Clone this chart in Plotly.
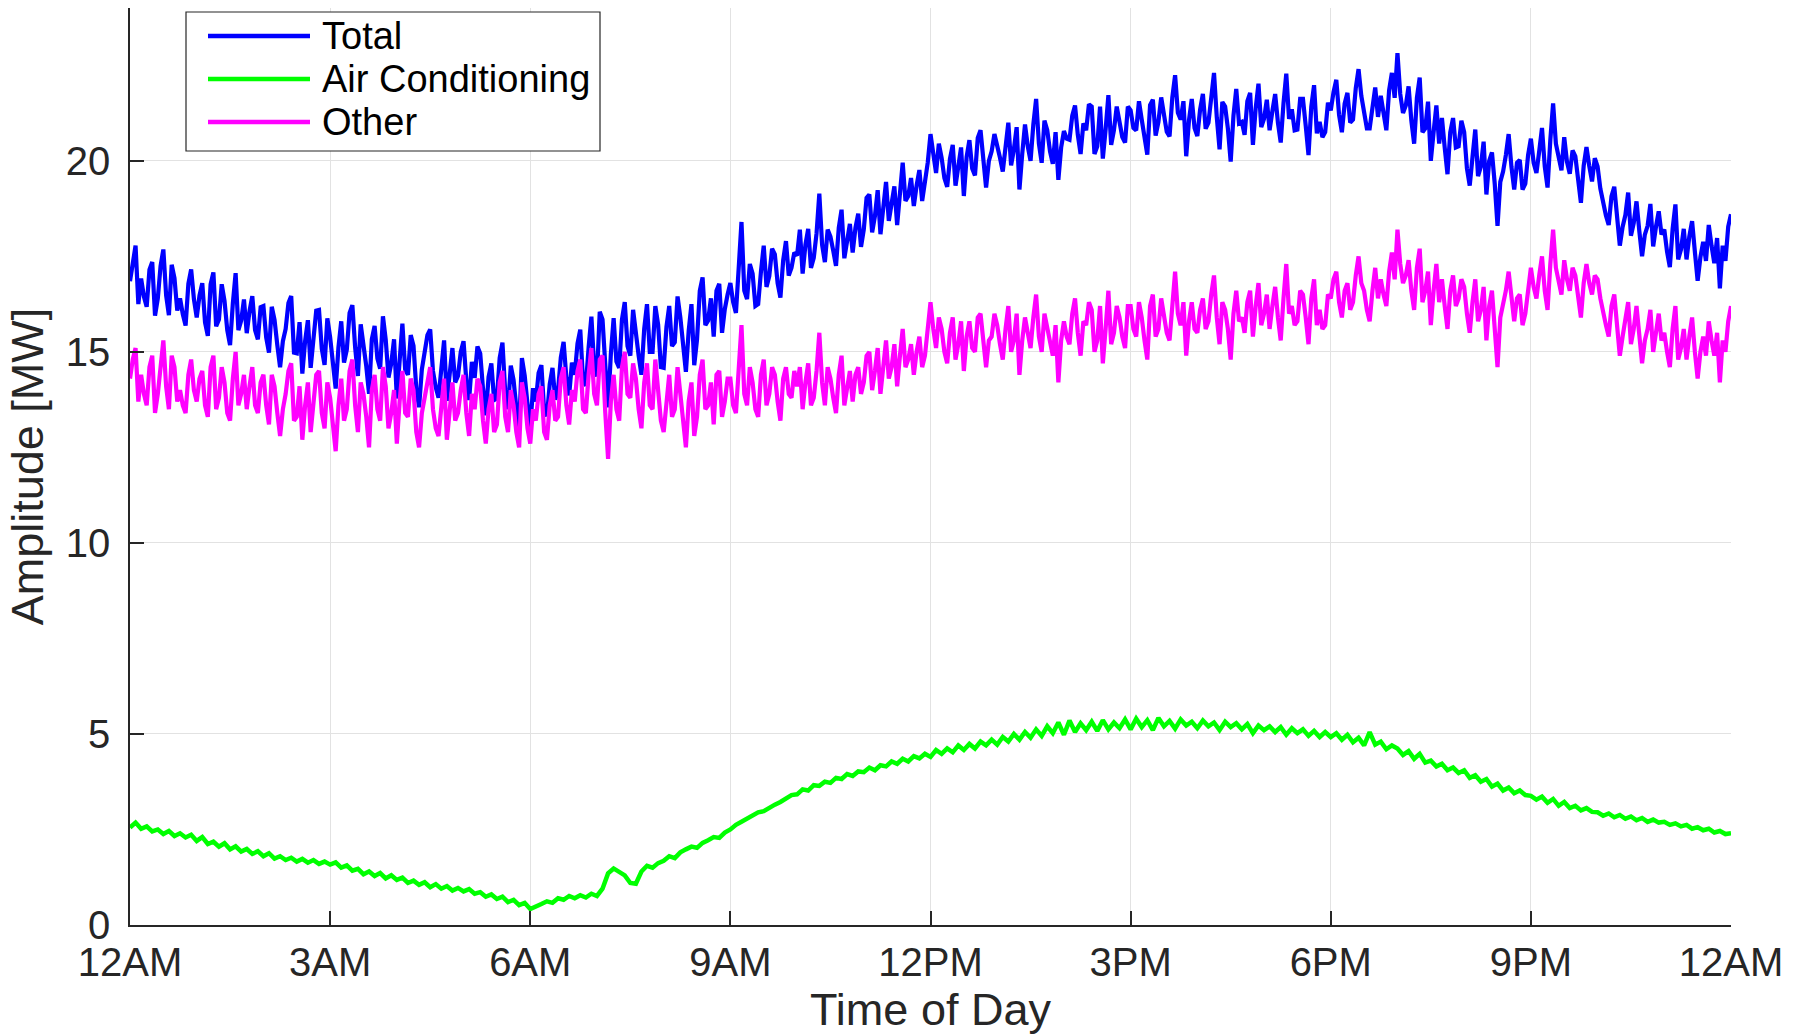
import plotly.graph_objects as go

# ---------------- data ----------------
# 5-minute samples, 00:00 .. 24:00
minutes = list(range(0, 1441, 5))
# in-between samples at 00:02.5, 00:07.5, ... 23:57.5 (Total / Other only)
minutes_mid = [m + 2.5 for m in minutes[:-1]]

other = [
    14.3, 15.1, 14.4, 13.6, 14.9, 13.9, 15.3, 13.5, 14.6, 14.0, 13.4, 14.8,
    13.7, 14.5, 13.3, 14.9, 13.8, 14.2, 13.2, 15.0, 13.9, 13.5, 14.6, 13.4,
    14.4, 13.1, 14.1, 12.8, 13.9, 14.7, 13.3, 12.7, 14.2, 13.6, 14.5, 13.0,
    13.8, 12.4, 14.3, 13.5, 14.8, 12.9, 13.9, 12.5, 14.4, 13.2, 14.1, 13.4,
    12.6, 14.5, 13.3, 14.0, 12.5, 13.8, 14.6, 13.0, 13.6, 12.7, 14.2, 13.4,
    14.4, 12.8, 13.5, 14.1, 12.6, 13.9, 13.1, 14.5, 12.9, 13.6, 12.5, 13.8,
    12.6, 13.2, 14.1, 12.7, 14.0, 13.3, 14.6, 13.1, 13.7, 14.8, 13.4, 15.1,
    13.6, 14.9, 12.2, 14.4, 13.2, 15.0, 13.8, 14.3, 13.0, 14.7, 13.5, 14.1,
    12.9, 14.4, 13.5, 14.0, 12.5, 14.2, 13.3, 14.8, 13.6, 13.1, 14.5, 13.7,
    14.3, 13.4, 15.7, 13.6, 14.2, 13.3, 14.8, 13.9, 14.4, 13.2, 14.6, 13.8,
    14.1, 13.5, 14.7, 13.8, 15.5, 13.6, 14.3, 13.4, 14.9, 14.0, 13.7, 14.6,
    14.2, 15.0, 14.5, 13.9, 15.3, 14.6, 14.1, 15.6, 14.8, 14.4, 15.4, 14.9,
    16.3, 15.1, 15.6, 14.7, 15.9, 15.2, 14.5, 15.8, 15.0, 16.0, 14.6, 15.4,
    15.7, 14.8, 16.2, 15.3, 14.4, 15.9, 15.1, 16.5, 15.0, 15.6, 14.9, 14.2,
    15.8, 15.2, 16.4, 14.9, 15.7, 16.1, 15.3, 14.7, 16.6, 15.5, 15.9, 15.1,
    16.2, 15.4, 15.9, 14.8, 16.5, 15.6, 16.0, 15.3, 17.1, 15.7, 14.9, 16.3,
    15.5, 16.4, 15.8, 17.0, 15.2, 16.1, 14.8, 16.6, 15.9, 16.3, 15.4, 16.8,
    16.0, 15.6, 16.7, 15.3, 17.3, 16.2, 15.8, 16.5, 15.2, 16.9, 16.1, 15.7,
    16.4, 17.1, 15.9, 16.8, 16.3, 17.5, 16.6, 15.8, 17.2, 16.9, 16.2, 17.6,
    18.2, 16.8, 17.4, 16.1, 17.7, 16.6, 15.7, 17.3, 16.9, 15.6, 17.0, 16.4,
    16.7, 15.5, 16.9, 16.1, 15.3, 16.6, 14.6, 16.2, 17.1, 15.8, 16.5, 16.0,
    17.2, 16.4, 17.5, 16.1, 18.2, 16.9, 17.4, 16.6, 17.0, 15.9, 17.3, 16.5,
    16.9, 16.0, 15.4, 16.5, 14.9, 15.8, 15.2, 16.2, 14.7, 15.6, 15.0, 16.0,
    15.5, 14.6, 16.2, 15.1, 14.8, 15.9, 14.3, 15.4, 15.8, 14.9, 14.2, 15.0,
    16.2,
]

other_mid = [
    14.8, 13.7, 13.9, 14.6, 13.4, 14.7, 14.1, 14.9, 13.7, 13.6, 14.4, 14.0,
    14.3, 13.6, 14.6, 13.5, 14.6, 13.4, 14.3, 13.6, 14.4, 14.1, 13.6, 14.2,
    13.6, 14.4, 13.4, 13.5, 14.5, 13.2, 14.1, 13.6, 12.9, 14.4, 13.4, 14.2,
    13.1, 13.6, 13.2, 14.5, 13.6, 14.2, 13.3, 14.0, 13.5, 14.6, 13.0, 14.0,
    13.7, 13.4, 14.3, 12.9, 13.4, 14.3, 13.5, 12.8, 14.3, 13.5, 13.2, 14.0,
    13.4, 13.9, 14.3, 13.2, 13.5, 12.9, 14.2, 13.3, 14.0, 12.9, 14.2, 13.0,
    13.5, 13.9, 12.9, 13.6, 13.2, 14.3, 13.6, 14.0, 14.5, 13.5, 14.4, 13.9,
    14.8, 13.4, 13.7, 13.5, 14.6, 13.9, 14.7, 13.5, 14.2, 13.6, 14.8, 13.2,
    13.8, 13.3, 14.6, 13.2, 13.7, 12.8, 14.4, 13.5, 14.2, 14.4, 13.3, 14.3,
    13.6, 14.5, 13.9, 14.6, 13.5, 14.4, 13.6, 14.6, 13.7, 14.3, 13.9, 14.5,
    14.6, 14.2, 13.6, 14.5, 14.2, 14.6, 13.8, 14.4, 13.6, 14.5, 14.4, 13.9,
    14.9, 14.0, 15.1, 14.7, 14.3, 15.2, 14.9, 14.6, 15.2, 15.0, 14.6, 15.6,
    15.6, 15.9, 15.0, 15.5, 14.8, 15.8, 15.4, 15.1, 15.9, 15.3, 15.3, 16.0,
    15.2, 15.6, 15.0, 16.0, 15.3, 15.5, 15.9, 15.4, 16.0, 15.2, 15.7, 15.3,
    15.4, 16.0, 15.5, 15.8, 16.3, 15.0, 16.2, 15.6, 15.2, 16.2, 15.4, 16.2,
    15.6, 16.3, 15.3, 16.2, 15.4, 16.4, 15.5, 16.4, 16.0, 16.3, 15.8, 15.6,
    16.1, 15.6, 16.5, 15.9, 16.3, 15.6, 16.0, 15.8, 15.5, 16.6, 16.2, 15.7,
    16.5, 16.2, 15.9, 16.4, 16.0, 15.7, 16.6, 15.9, 16.4, 15.7, 15.6, 16.5,
    16.9, 16.3, 16.6, 16.1, 17.0, 16.8, 16.1, 16.6, 16.4, 16.5, 17.1, 16.9,
    17.3, 17.0, 16.6, 17.2, 16.3, 17.1, 16.6, 16.3, 16.2, 16.6, 16.2, 16.9,
    16.0, 16.3, 15.8, 16.7, 16.2, 15.6, 15.9, 16.6, 16.3, 16.4, 15.7, 16.6,
    16.7, 17.0, 16.6, 17.3, 17.2, 16.5, 16.9, 17.2, 16.4, 16.8, 16.8, 17.0,
    16.4, 15.7, 16.2, 15.6, 15.4, 16.3, 15.6, 15.4, 15.3, 16.1, 15.5, 15.3,
    15.0, 15.6, 14.8, 15.6, 15.4, 15.0, 15.0, 14.9, 15.3, 15.5, 15.3, 15.8,
]

air_conditioning = [
    2.55, 2.68, 2.52, 2.58, 2.45, 2.50, 2.38, 2.46, 2.33, 2.40, 2.29, 2.36,
    2.20, 2.30, 2.12, 2.18, 2.05, 2.14, 1.98, 2.06, 1.92, 1.99, 1.86, 1.93,
    1.80, 1.88, 1.74, 1.80, 1.70, 1.76, 1.66, 1.73, 1.63, 1.70, 1.60, 1.66,
    1.58, 1.64, 1.50, 1.56, 1.42, 1.47, 1.33, 1.40, 1.28, 1.36, 1.22, 1.30,
    1.18, 1.24, 1.10, 1.16, 1.05, 1.12, 0.99, 1.07, 0.95, 1.02, 0.90, 0.97,
    0.88, 0.94, 0.82, 0.86, 0.74, 0.80, 0.68, 0.74, 0.60, 0.66, 0.52, 0.58,
    0.42, 0.50, 0.55, 0.62, 0.58, 0.70, 0.66, 0.76, 0.70, 0.78, 0.72, 0.82,
    0.76, 0.95, 1.35, 1.48, 1.38, 1.30, 1.10, 1.08, 1.40, 1.55, 1.50, 1.62,
    1.68, 1.80, 1.75, 1.90, 1.98, 2.05, 2.02, 2.15, 2.22, 2.30, 2.28, 2.42,
    2.50, 2.62, 2.70, 2.78, 2.85, 2.95, 2.98, 3.08, 3.15, 3.22, 3.30, 3.40,
    3.42, 3.55, 3.52, 3.66, 3.64, 3.75, 3.72, 3.85, 3.82, 3.95, 3.90, 4.02,
    4.00, 4.12, 4.05, 4.18, 4.15, 4.28, 4.22, 4.35, 4.28, 4.42, 4.36, 4.48,
    4.40, 4.58, 4.48, 4.62, 4.52, 4.70, 4.58, 4.74, 4.62, 4.80, 4.70, 4.85,
    4.72, 4.92, 4.80, 5.00, 4.85, 5.05, 4.90, 5.12, 4.95, 5.20, 5.02, 5.30,
    4.98, 5.35, 5.05, 5.28, 5.10, 5.32, 5.08, 5.36, 5.12, 5.30, 5.15, 5.38,
    5.12, 5.40, 5.18, 5.36, 5.10, 5.42, 5.20, 5.34, 5.14, 5.38, 5.22, 5.32,
    5.15, 5.35, 5.20, 5.30, 5.10, 5.32, 5.18, 5.28, 5.12, 5.26, 5.02, 5.22,
    5.10, 5.20, 5.05, 5.18, 4.98, 5.15, 5.02, 5.12, 4.95, 5.08, 4.92, 5.05,
    4.92, 5.02, 4.85, 4.98, 4.78, 4.90, 4.70, 5.05, 4.72, 4.80, 4.60, 4.70,
    4.62, 4.45, 4.55, 4.35, 4.48, 4.25, 4.30, 4.15, 4.22, 4.05, 4.12, 3.98,
    4.05, 3.85, 3.92, 3.75, 3.82, 3.62, 3.70, 3.52, 3.60, 3.45, 3.52, 3.40,
    3.38, 3.28, 3.36, 3.20, 3.30, 3.12, 3.22, 3.06, 3.12, 3.00, 3.06, 2.96,
    2.95, 2.86, 2.92, 2.82, 2.88, 2.78, 2.84, 2.74, 2.80, 2.70, 2.76, 2.68,
    2.70, 2.62, 2.66, 2.58, 2.62, 2.52, 2.56, 2.48, 2.52, 2.42, 2.46, 2.38,
    2.40,
]

total = [
    16.85, 17.78, 16.92, 16.18, 17.35, 16.40, 17.68, 15.96, 16.93, 16.40, 15.69, 17.16,
    15.90, 16.80, 15.42, 17.08, 15.85, 16.34, 15.18, 17.06, 15.82, 15.49, 16.46, 15.33,
    16.20, 14.98, 15.84, 14.60, 15.60, 16.46, 14.96, 14.43, 15.83, 15.30, 16.10, 14.66,
    15.38, 14.04, 15.80, 15.06, 16.22, 14.37, 15.23, 13.90, 15.68, 14.56, 15.32, 14.70,
    13.78, 15.74, 14.40, 15.16, 13.55, 14.92, 15.59, 14.07, 14.55, 13.72, 15.10, 14.37,
    15.28, 13.74, 14.32, 14.96, 13.34, 14.70, 13.78, 15.24, 13.50, 14.26, 13.02, 14.38,
    13.02, 13.70, 14.65, 13.32, 14.58, 14.00, 15.26, 13.86, 14.40, 15.58, 14.12, 15.92,
    14.36, 15.85, 13.55, 15.88, 14.58, 16.30, 14.90, 15.38, 14.40, 16.25, 15.00, 15.72,
    14.58, 16.20, 15.25, 15.90, 14.48, 16.25, 15.32, 16.95, 15.82, 15.40, 16.78, 16.12,
    16.80, 16.02, 18.40, 16.38, 17.05, 16.25, 17.78, 16.98, 17.55, 16.42, 17.90, 17.20,
    17.52, 17.05, 18.22, 17.46, 19.14, 17.35, 18.02, 17.25, 18.72, 17.95, 17.60, 18.62,
    18.20, 19.12, 18.55, 18.08, 19.45, 18.88, 18.32, 19.95, 19.08, 18.82, 19.76, 19.38,
    20.70, 19.68, 20.08, 19.32, 20.42, 19.90, 19.08, 20.54, 19.62, 20.80, 19.30, 20.25,
    20.42, 19.72, 21.00, 20.30, 19.25, 20.95, 20.00, 21.62, 19.95, 20.80, 19.92, 19.50,
    20.78, 20.55, 21.45, 20.18, 20.80, 21.42, 20.38, 20.06, 21.72, 20.80, 21.05, 20.48,
    21.32, 20.80, 21.08, 20.16, 21.60, 21.02, 21.20, 20.64, 22.24, 21.08, 20.12, 21.62,
    20.65, 21.75, 21.00, 22.30, 20.30, 21.42, 19.98, 21.88, 21.02, 21.56, 20.42, 22.02,
    21.10, 20.80, 21.75, 20.48, 22.28, 21.35, 20.82, 21.62, 20.15, 21.98, 21.02, 20.75,
    21.32, 22.12, 20.75, 21.78, 21.08, 22.40, 21.30, 20.85, 21.92, 21.70, 20.80, 22.30,
    22.82, 21.25, 21.95, 20.45, 22.18, 20.85, 20.00, 21.45, 21.12, 19.65, 21.12, 20.38,
    20.75, 19.35, 20.82, 19.85, 19.12, 20.22, 18.30, 19.72, 20.70, 19.25, 20.02, 19.40,
    20.58, 19.68, 20.86, 19.30, 21.50, 20.02, 20.62, 19.66, 20.12, 18.90, 20.36, 19.46,
    19.85, 18.86, 18.32, 19.32, 17.78, 18.58, 18.04, 18.94, 17.50, 18.30, 17.76, 18.68,
    18.20, 17.22, 18.86, 17.68, 17.42, 18.42, 16.86, 17.88, 18.32, 17.32, 16.66, 17.38,
    18.60,
]

total_mid = [
    17.35, 16.25, 16.45, 17.15, 15.95, 17.25, 16.48, 17.28, 16.08, 15.98, 16.78, 16.38,
    16.47, 15.77, 16.77, 15.67, 16.77, 15.57, 16.27, 15.57, 16.37, 16.07, 15.57, 16.17,
    15.38, 16.18, 15.18, 15.28, 16.28, 14.98, 15.78, 15.28, 14.58, 16.08, 15.08, 15.88,
    14.62, 15.12, 14.72, 16.02, 15.12, 15.72, 14.63, 15.33, 14.83, 15.93, 14.33, 15.33,
    14.84, 14.54, 15.44, 14.04, 14.54, 15.44, 14.50, 13.80, 15.30, 14.50, 14.20, 15.00,
    14.24, 14.74, 15.14, 14.04, 14.34, 13.74, 14.84, 13.94, 14.64, 13.54, 14.84, 13.64,
    14.05, 14.45, 13.45, 14.15, 13.75, 14.85, 14.32, 14.72, 15.22, 14.22, 15.12, 14.62,
    16.05, 14.65, 14.95, 14.75, 15.85, 15.15, 16.10, 14.90, 15.60, 15.00, 16.20, 14.60,
    15.65, 15.15, 16.45, 15.05, 15.55, 14.65, 16.60, 15.70, 16.40, 16.60, 15.50, 16.50,
    16.30, 17.20, 16.60, 17.30, 16.20, 17.10, 16.70, 17.70, 16.80, 17.40, 17.00, 17.60,
    18.20, 17.80, 17.20, 18.10, 17.80, 18.20, 17.65, 18.25, 17.45, 18.35, 18.25, 17.75,
    19.03, 18.13, 19.23, 18.83, 18.43, 19.33, 19.25, 18.95, 19.55, 19.35, 18.95, 19.95,
    20.15, 20.45, 19.55, 20.05, 19.35, 20.35, 20.10, 19.80, 20.60, 20.00, 20.00, 20.70,
    20.08, 20.48, 19.88, 20.88, 20.18, 20.38, 20.95, 20.45, 21.05, 20.25, 20.75, 20.35,
    20.58, 21.18, 20.68, 20.98, 21.48, 20.18, 21.42, 20.82, 20.42, 21.42, 20.62, 21.42,
    20.86, 21.56, 20.56, 21.46, 20.66, 21.66, 20.76, 21.66, 21.26, 21.56, 21.06, 20.86,
    21.34, 20.84, 21.74, 21.14, 21.54, 20.84, 21.18, 20.98, 20.68, 21.78, 21.38, 20.88,
    21.60, 21.30, 21.00, 21.50, 21.10, 20.80, 21.62, 20.92, 21.42, 20.72, 20.62, 21.52,
    21.80, 21.20, 21.50, 21.00, 21.90, 21.70, 20.85, 21.35, 21.15, 21.25, 21.85, 21.65,
    21.75, 21.45, 21.05, 21.65, 20.75, 21.55, 20.75, 20.45, 20.35, 20.75, 20.35, 21.05,
    19.80, 20.10, 19.60, 20.50, 20.00, 19.40, 19.45, 20.15, 19.85, 19.95, 19.25, 20.15,
    19.95, 20.25, 19.85, 20.55, 20.45, 19.75, 19.97, 20.27, 19.47, 19.87, 19.87, 20.07,
    19.27, 18.57, 19.07, 18.47, 18.27, 19.17, 18.37, 18.17, 18.07, 18.87, 18.27, 18.07,
    17.62, 18.22, 17.42, 18.22, 18.02, 17.62, 17.48, 17.38, 17.78, 17.98, 17.78, 18.28,
]

series_names = ["Total", "Air Conditioning", "Other"]
series_colors = ["#0000FF", "#00FF00", "#FF00FF"]

x_tickvals = [0, 3, 6, 9, 12, 15, 18, 21, 24]
x_ticktext = ["12AM", "3AM", "6AM", "9AM", "12PM", "3PM", "6PM", "9PM", "12AM"]
y_tickvals = [0, 5, 10, 15, 20]


# merge the 5-minute and in-between samples into one time-ordered series
def merge(main_vals, mid_vals):
    xs, ys = [], []
    for i in range(len(mid_vals)):
        xs += [minutes[i] / 60, minutes_mid[i] / 60]
        ys += [main_vals[i], mid_vals[i]]
    xs.append(minutes[-1] / 60)
    ys.append(main_vals[-1])
    return xs, ys


x_total, y_total = merge(total, total_mid)
x_other, y_other = merge(other, other_mid)
x_ac = [m / 60 for m in minutes]

# ---------------- figure ----------------
W, H = 1802, 1036
L, R, T, B = 130, 71, 8, 111
PW, PH = W - L - R, H - T - B

FONT = "Liberation Sans, Arial, Helvetica, sans-serif"
AXC = "#262626"

fig = go.Figure()
for name, xs, ys, col, lw in zip(series_names,
                                 [x_total, x_ac, x_other],
                                 [y_total, air_conditioning, y_other],
                                 series_colors, [4.2, 4.5, 4.2]):
    fig.add_trace(go.Scatter(x=xs, y=ys, mode="lines", name=name,
                             line=dict(color=col, width=lw), showlegend=False))


def px_x(px):
    return (px - L) / PW


def px_y(py):
    return (H - B - py) / PH


# manual MATLAB-style legend (long line samples)
shapes = [dict(type="rect", xref="paper", yref="paper",
               x0=px_x(186), x1=px_x(600), y0=px_y(151), y1=px_y(12),
               line=dict(color=AXC, width=1.2), fillcolor="white", layer="above")]
annotations = []
row_y = [36, 79, 122]
for name, col, ry in zip(series_names, series_colors, row_y):
    shapes.append(dict(type="line", xref="paper", yref="paper",
                       x0=px_x(208), x1=px_x(310), y0=px_y(ry), y1=px_y(ry),
                       line=dict(color=col, width=4.5), layer="above"))
    annotations.append(dict(xref="paper", yref="paper", x=px_x(320), y=px_y(ry),
                            text=name, showarrow=False, xanchor="left", yanchor="middle",
                            font=dict(family=FONT, size=38, color="#000000")))

fig.update_layout(
    width=W, height=H,
    margin=dict(l=L, r=R, t=T, b=B, pad=0),
    paper_bgcolor="white", plot_bgcolor="white",
    font=dict(family=FONT, color=AXC),
    shapes=shapes, annotations=annotations,
    xaxis=dict(range=[0, 24], tickvals=x_tickvals, ticktext=x_ticktext,
               showgrid=True, gridcolor="#e2e2e2", gridwidth=1,
               showline=True, linecolor=AXC, linewidth=1.5, mirror=False,
               ticks="inside", ticklen=14, tickwidth=1.5, tickcolor=AXC,
               tickfont=dict(family=FONT, size=40, color=AXC),
               ticklabelstandoff=1,
               zeroline=False,
               title=dict(text="Time of Day", font=dict(family=FONT, size=45, color=AXC),
                          standoff=8)),
    yaxis=dict(range=[0, 24], tickvals=y_tickvals,
               showgrid=True, gridcolor="#e2e2e2", gridwidth=1,
               showline=True, linecolor=AXC, linewidth=1.5, mirror=False,
               ticks="inside", ticklen=14, tickwidth=1.5, tickcolor=AXC,
               tickfont=dict(family=FONT, size=40, color=AXC),
               ticklabelstandoff=10,
               zeroline=False,
               title=dict(text="Amplitude [MW]", font=dict(family=FONT, size=45, color=AXC),
                          standoff=8)),
)

fig.write_html("out.html")
